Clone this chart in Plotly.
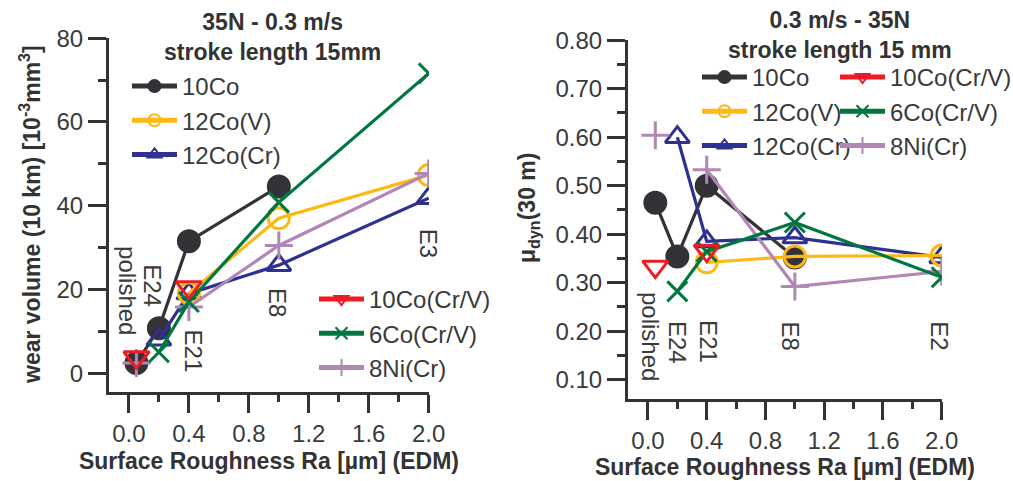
import plotly.graph_objects as go

# ---------------- data ----------------
ra = [0.05, 0.2, 0.4, 1.0, 2.0]          # Surface roughness Ra [µm]: polished, E24, E21, E8, E3/E2
series_names = ["10Co", "12Co(V)", "12Co(Cr)", "10Co(Cr/V)", "6Co(Cr/V)", "8Ni(Cr)"]

# left: wear volume (10 km) [10^-3 mm^3]
wv_10Co = [2.4, 10.7, 31.5, 44.6, None]
wv_12CoV = [None, None, 19.1, 37.0, 47.3]
wv_12CoCr = [None, 8.0, 19.0, 25.8, 41.8]
wv_10CoCrV = [3.8, None, 20.5, None, None]
wv_6CoCrV = [None, 5.0, 17.0, 40.8, 71.6]
wv_8NiCr = [2.4, None, 15.8, 30.5, 47.7]

# right: mu_dyn (30 m)
mu_10Co = [0.465, 0.354, 0.50, 0.352, None]
mu_12CoV = [None, None, 0.342, 0.354, 0.356]
mu_12CoCr = [None, 0.60, 0.385, 0.393, 0.352]
mu_10CoCrV = [0.333, None, 0.366, None, None]
mu_6CoCrV = [None, 0.282, 0.364, 0.424, 0.311]
mu_8NiCr = [0.604, None, 0.533, 0.292, 0.323]

left_point_labels = ["polished", "E24", "E21", "E8", "E3"]
right_point_labels = ["polished", "E24", "E21", "E8", "E2"]

x_major = [0.0, 0.4, 0.8, 1.2, 1.6, 2.0]
x_major_text = ["0.0", "0.4", "0.8", "1.2", "1.6", "2.0"]
x_minor = [0.2, 0.6, 1.0, 1.4, 1.8]
wv_major = [0, 20, 40, 60, 80]
wv_minor = [10, 30, 50, 70]
mu_major = [0.1, 0.2, 0.3, 0.4, 0.5, 0.6, 0.7, 0.8]
mu_major_text = ["0.10", "0.20", "0.30", "0.40", "0.50", "0.60", "0.70", "0.80"]
mu_minor = [0.15, 0.25, 0.35, 0.45, 0.55, 0.65, 0.75]

# ---------------- styles ----------------
FONT = "Liberation Sans, Arial, sans-serif"
AX = "rgb(51,51,51)"
TXT = "rgb(58,58,58)"
W, H = 1013, 481
ML, MR, MT, MB = 60, 40, 30, 60          # figure margins (px)
PW, PH = W - ML - MR, H - MT - MB

styles = {
    "10Co": dict(color="#333236", symbol="circle", size=21),
    "12Co(V)": dict(color="#FDB913", symbol="circle-open", size=21),
    "12Co(Cr)": dict(color="#2E3192", symbol="triangle-up-open", size=21),
    "10Co(Cr/V)": dict(color="#ED1C24", symbol="triangle-down-open", size=22),
    "6Co(Cr/V)": dict(color="#00773F", symbol="x-thin-open", size=20),
    "8Ni(Cr)": dict(color="#B286B5", symbol="cross-thin-open", size=20),
}

left_vals = {"10Co": wv_10Co, "12Co(V)": wv_12CoV, "12Co(Cr)": wv_12CoCr,
             "10Co(Cr/V)": wv_10CoCrV, "6Co(Cr/V)": wv_6CoCrV, "8Ni(Cr)": wv_8NiCr}
right_vals = {"10Co": mu_10Co, "12Co(V)": mu_12CoV, "12Co(Cr)": mu_12CoCr,
              "10Co(Cr/V)": mu_10CoCrV, "6Co(Cr/V)": mu_6CoCrV, "8Ni(Cr)": mu_8NiCr}

draw_order = ["10Co", "12Co(Cr)", "12Co(V)", "8Ni(Cr)", "6Co(Cr/V)", "10Co(Cr/V)"]
left_legend = {"10Co": "legend", "12Co(V)": "legend", "12Co(Cr)": "legend",
               "10Co(Cr/V)": "legend2", "6Co(Cr/V)": "legend2", "8Ni(Cr)": "legend2"}
right_legend = {"10Co": "legend3", "12Co(V)": "legend3", "12Co(Cr)": "legend3",
                "10Co(Cr/V)": "legend4", "6Co(Cr/V)": "legend4", "8Ni(Cr)": "legend4"}

fig = go.Figure()


def add_traces(vals, xa, ya, legmap):
    for name in draw_order:
        s = styles[name]
        mk = dict(symbol=s["symbol"], size=s["size"], color=s["color"],
                  line=dict(color=s["color"], width=3))
        fig.add_trace(go.Scatter(
            x=ra, y=vals[name], mode="lines+markers", name=name,
            line=dict(color=s["color"], width=3.2), marker=mk,
            xaxis=xa, yaxis=ya, legend=legmap[name],
            legendrank=series_names.index(name) + 1, connectgaps=False,
        ))


add_traces(left_vals, "x", "y", left_legend)
add_traces(right_vals, "x2", "y2", right_legend)

# invisible traces to carry the minor-tick overlay axes
fig.add_trace(go.Scatter(x=[None], y=[None], xaxis="x3", yaxis="y3", showlegend=False,
                         hoverinfo="skip"))
fig.add_trace(go.Scatter(x=[None], y=[None], xaxis="x4", yaxis="y4", showlegend=False,
                         hoverinfo="skip"))


# pixel -> container fraction, pixel -> paper (plot-area) fraction
def px_x(p):
    return p / W


def px_y(p):
    return 1 - p / H


def dom_x(p):
    return (p - ML) / PW


def dom_y(p):
    return 1 - (p - MT) / PH


tickfont = dict(family=FONT, size=24, color=TXT)
titlefont = dict(family=FONT, size=23, color=AX, weight="bold")

major = dict(showline=True, linecolor=AX, linewidth=3, ticks="outside", ticklen=18,
             tickwidth=3, tickcolor=AX, tickmode="array", tickfont=tickfont,
             showgrid=False, zeroline=False, mirror=False, layer="above traces")
minor_ax = dict(showline=False, ticks="outside", tickwidth=3, tickcolor=AX,
                tickmode="array", showticklabels=False, showgrid=False, zeroline=False)

L_X = [dom_x(109), dom_x(429)]
L_Y = [dom_y(392), dom_y(38)]
R_X = [dom_x(628), dom_x(942)]
R_Y = [dom_y(399), dom_y(40)]
L_XR = [-0.133, 2.002]
L_YR = [-4.5, 80.05]
R_XR = [-0.136, 2.002]
R_YR = [0.06, 0.8005]

fig.update_layout(
    width=W, height=H, margin=dict(l=ML, r=MR, t=MT, b=MB, autoexpand=False),
    paper_bgcolor="white", plot_bgcolor="rgba(0,0,0,0)",
    font=dict(family=FONT, color=TXT),
    xaxis=dict(domain=L_X, range=L_XR, anchor="y", tickvals=x_major, ticktext=x_major_text,
               title=dict(text="Surface Roughness Ra [µm] (EDM)", font=titlefont, standoff=8),
               **major),
    yaxis=dict(domain=L_Y, range=L_YR, anchor="x", tickvals=wv_major, **major),
    xaxis2=dict(domain=R_X, range=R_XR, anchor="y2", tickvals=x_major, ticktext=x_major_text,
                title=dict(text="Surface Roughness Ra [µm] (EDM)", font=titlefont, standoff=2),
                **major),
    yaxis2=dict(domain=R_Y, range=R_YR, anchor="x2", tickvals=mu_major, ticktext=mu_major_text,
                **major),
    xaxis3=dict(domain=L_X, range=L_XR, anchor="y3", overlaying="x", tickvals=x_minor,
                ticklen=9, **minor_ax),
    yaxis3=dict(domain=L_Y, range=L_YR, anchor="x3", overlaying="y", tickvals=wv_minor,
                ticklen=10, **minor_ax),
    xaxis4=dict(domain=R_X, range=R_XR, anchor="y4", overlaying="x2", tickvals=x_minor,
                ticklen=9, **minor_ax),
    yaxis4=dict(domain=R_Y, range=R_YR, anchor="x4", overlaying="y2", tickvals=mu_minor,
                ticklen=10, **minor_ax),
)

legfont = dict(family=FONT, size=24, color=TXT)
legcommon = dict(bgcolor="rgba(0,0,0,0)", font=legfont, itemsizing="constant",
                 xanchor="left", yanchor="top", tracegroupgap=0, itemwidth=45,
                 xref="container", yref="container")
fig.update_layout(
    legend=dict(x=px_x(127), y=px_y(64), **legcommon),
    legend2=dict(x=px_x(314), y=px_y(277), **legcommon),
    legend3=dict(x=px_x(697), y=px_y(55), **legcommon),
    legend4=dict(x=px_x(835), y=px_y(55), **legcommon),
)

# chart titles
fig.add_annotation(x=dom_x(272), y=dom_y(37), xref="paper", yref="paper",
                   text="<b>35N - 0.3 m/s<br>stroke length 15mm</b>", showarrow=False,
                   font=dict(family=FONT, size=23, color=AX), xanchor="center", yanchor="middle")
fig.add_annotation(x=dom_x(840), y=dom_y(35), xref="paper", yref="paper",
                   text="<b>0.3 m/s - 35N<br>stroke length 15 mm</b>", showarrow=False,
                   font=dict(family=FONT, size=23, color=AX), xanchor="center", yanchor="middle")

# y-axis titles
fig.add_annotation(x=dom_x(30), y=dom_y(215), xref="paper", yref="paper", textangle=-90,
                   text="<b>wear volume (10 km) [10<sup>-3</sup>mm<sup>3</sup>]</b>",
                   showarrow=False, font=dict(family=FONT, size=23, color=AX),
                   xanchor="center", yanchor="middle")
fig.add_annotation(x=dom_x(528), y=dom_y(208), xref="paper", yref="paper", textangle=-90,
                   text="<b>μ<sub>dyn</sub>(30 m)</b>",
                   showarrow=False, font=dict(family=FONT, size=23, color=AX),
                   xanchor="center", yanchor="middle")

# rotated point labels
left_pos = [(-0.005, 19.8), (0.16, 20.8), (0.43, 5.3), (0.99, 16.9), (2.0, 31.0)]
right_pos = [(0.014, 0.19), (0.2, 0.177), (0.41, 0.179), (0.97, 0.19), (1.98, 0.19)]
for lab, (xx, yy) in zip(left_point_labels, left_pos):
    fig.add_annotation(x=xx, y=yy, xref="x", yref="y", text=lab, showarrow=False, textangle=90,
                       font=dict(family=FONT, size=24, color=TXT))
for lab, (xx, yy) in zip(right_point_labels, right_pos):
    fig.add_annotation(x=xx, y=yy, xref="x2", yref="y2", text=lab, showarrow=False, textangle=90,
                       font=dict(family=FONT, size=24, color=TXT))

fig.write_html("out.html")
